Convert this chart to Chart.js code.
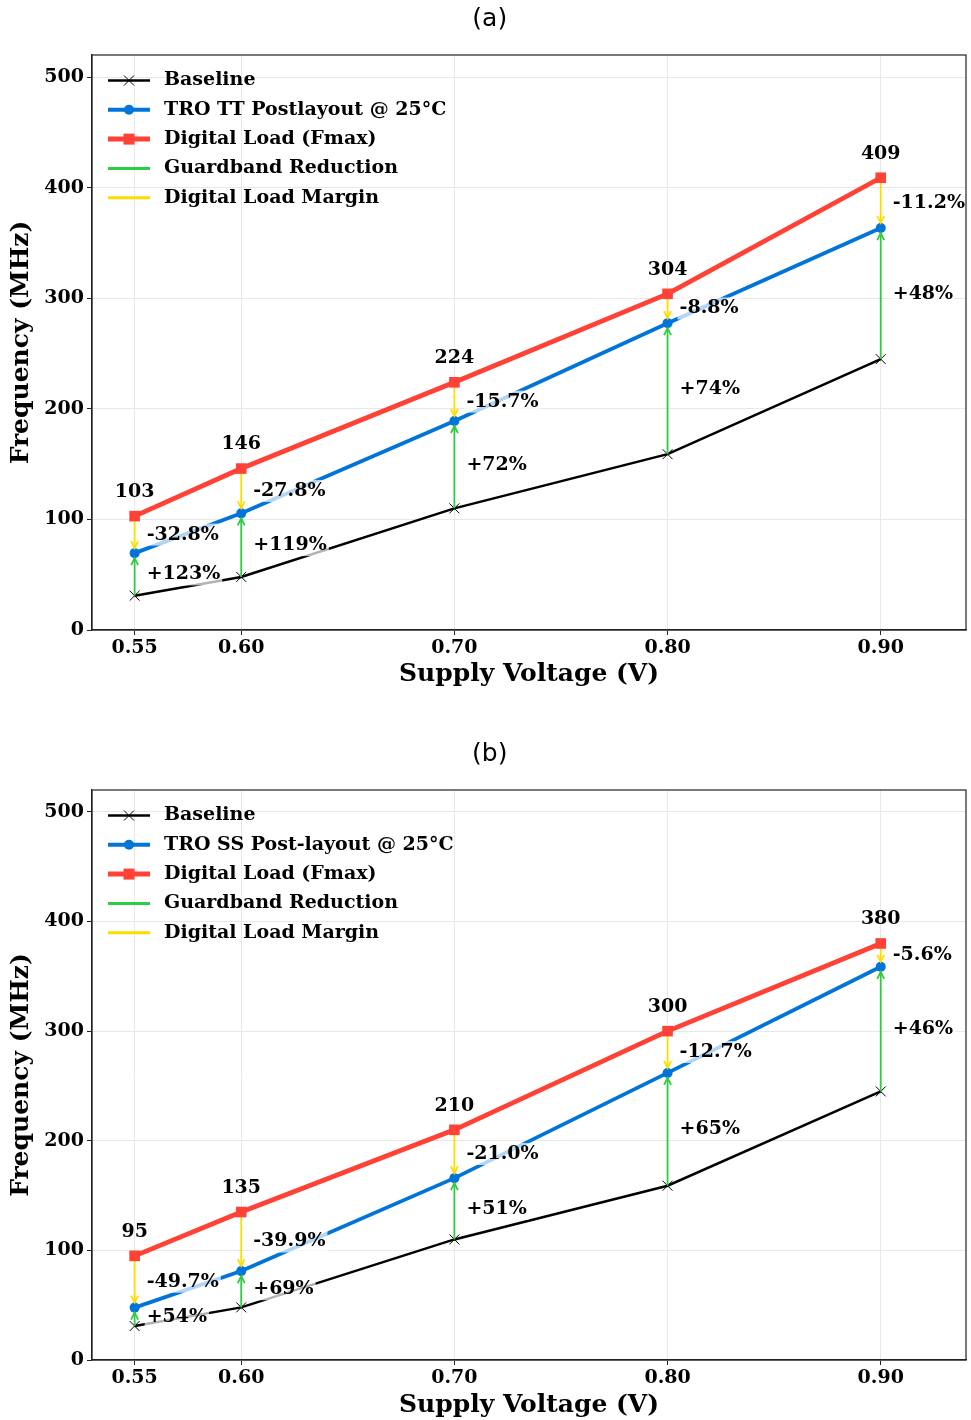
<!DOCTYPE html>
<html>
<head>
<meta charset="utf-8">
<script src="https://cdn.jsdelivr.net/npm/chart.js@4/dist/chart.umd.min.js"></script>
<style>
  body { margin: 0; background: #fff; overflow: hidden; }
  .box { position: absolute; left: 0; width: 971px; }
</style>
</head>
<body>
<div class="box" style="top:0;height:735px"><canvas id="chartA"></canvas></div>
<div class="box" style="top:735px;height:685px"><canvas id="chartB"></canvas></div>
<script>
// data
const voltages = [0.55, 0.60, 0.70, 0.80, 0.90];
const xTicks = [0.55, 0.60, 0.70, 0.80, 0.90];
const yTicks = [0, 100, 200, 300, 400, 500];
const baseline = [31, 48, 110, 159, 245];

const troTT = [69.5, 105.5, 189, 277.5, 363.5];
const digitalA = [103, 146, 224, 304, 409];
const marginA = ['-32.8%', '-27.8%', '-15.7%', '-8.8%', '-11.2%'];
const guardA = ['+123%', '+119%', '+72%', '+74%', '+48%'];

const troSS = [47.8, 81.1, 165.9, 261.9, 358.7];
const digitalB = [95, 135, 210, 300, 380];
const marginB = ['-49.7%', '-39.9%', '-21.0%', '-12.7%', '-5.6%'];
const guardB = ['+54%', '+69%', '+51%', '+65%', '+46%'];

const RED = '#FF4136', BLUE = '#0074D9', GREEN = '#2ECC40', YELLOW = '#FFDC00';
const SERIF = "'DejaVu Serif', serif";

function arrowPts(from, to) {
  const pts = [];
  voltages.forEach((v, i) => {
    pts.push({x: v, y: from[i]}, {x: v, y: to[i]}, {x: v, y: null});
  });
  return pts;
}

function xy(arr) {
  return voltages.map((v, i) => ({x: v, y: arr[i]}));
}

function makeChart(id, opt) {
  const annot = {
    id: 'annot',
    afterDatasetsDraw(chart) {
      const {ctx, scales: {x, y}} = chart;
      ctx.save();
      // arrow heads
      ctx.lineWidth = 1.8;
      voltages.forEach((v, i) => {
        const px = x.getPixelForValue(v);
        const yt = y.getPixelForValue(opt.tro[i]);
        ctx.strokeStyle = GREEN;
        ctx.beginPath();
        ctx.moveTo(px - 3.5, yt + 12); ctx.lineTo(px, yt + 5); ctx.lineTo(px + 3.5, yt + 12);
        ctx.stroke();
        ctx.strokeStyle = YELLOW;
        ctx.beginPath();
        ctx.moveTo(px - 3.5, yt - 12); ctx.lineTo(px, yt - 5); ctx.lineTo(px + 3.5, yt - 12);
        ctx.stroke();
      });
      ctx.font = 'bold 19px ' + SERIF;
      ctx.textBaseline = 'middle';
      voltages.forEach((v, i) => {
        const px = x.getPixelForValue(v);
        const yb = y.getPixelForValue(baseline[i]);
        const yt = y.getPixelForValue(opt.tro[i]);
        const yd = y.getPixelForValue(opt.digital[i]);
        ctx.fillStyle = '#000';
        ctx.textAlign = 'center';
        ctx.fillText(String(opt.digital[i]), px, yd - 24);
        ctx.textAlign = 'left';
        [[opt.margin[i], (yd + yt) / 2], [opt.guard[i], (yb + yt) / 2]].forEach(([t, ty]) => {
          const w = ctx.measureText(t).width;
          ctx.fillStyle = 'rgba(255,255,255,0.7)';
          ctx.fillRect(px + 10, ty - 11, w + 4, 22);
          ctx.fillStyle = '#000';
          ctx.fillText(t, px + 12, ty);
        });
      });
      ctx.restore();
    },
    afterDraw(chart) {
      const {ctx, chartArea: a} = chart;
      ctx.save();
      ctx.strokeStyle = '#222';
      ctx.lineWidth = 1.2;
      ctx.strokeRect(a.left, a.top, a.right - a.left, a.bottom - a.top);
      // legend
      const items = [
        {t: 'Baseline', c: '#000', w: 2.5, m: 'x'},
        {t: opt.troLabel, c: BLUE, w: 4, m: 'o'},
        {t: 'Digital Load (Fmax)', c: RED, w: 5, m: 's'},
        {t: 'Guardband Reduction', c: GREEN, w: 3, m: ''},
        {t: 'Digital Load Margin', c: YELLOW, w: 3, m: ''}
      ];
      ctx.font = 'bold 19px ' + SERIF;
      ctx.textBaseline = 'middle';
      ctx.textAlign = 'left';
      items.forEach((it, k) => {
        const ly = a.top + 25.5 + k * 29.3;
        const x0 = a.left + 16, x1 = a.left + 58, xm = (x0 + x1) / 2;
        ctx.strokeStyle = it.c; ctx.fillStyle = it.c; ctx.lineWidth = it.w;
        ctx.beginPath(); ctx.moveTo(x0, ly); ctx.lineTo(x1, ly); ctx.stroke();
        if (it.m === 'x') {
          ctx.lineWidth = 1;
          ctx.beginPath();
          ctx.moveTo(xm - 5, ly - 5); ctx.lineTo(xm + 5, ly + 5);
          ctx.moveTo(xm - 5, ly + 5); ctx.lineTo(xm + 5, ly - 5);
          ctx.stroke();
        } else if (it.m === 'o') {
          ctx.beginPath(); ctx.arc(xm, ly, 5, 0, Math.PI * 2); ctx.fill();
        } else if (it.m === 's') {
          ctx.fillRect(xm - 5.5, ly - 5.5, 11, 11);
        }
        ctx.fillStyle = '#000';
        ctx.fillText(it.t, a.left + 72, ly);
      });
      ctx.restore();
    }
  };

  const canvas = document.getElementById(id);
  const chart = new Chart(canvas, {
    type: 'line',
    data: {
      datasets: [
        {label: 'Digital Load (Fmax)', data: xy(opt.digital), borderColor: RED, backgroundColor: RED,
         borderWidth: 4.8, pointStyle: 'rect', pointRadius: 7.5, pointBorderWidth: 0},
        {label: opt.troLabel, data: xy(opt.tro), borderColor: BLUE, backgroundColor: BLUE,
         borderWidth: 3.8, pointStyle: 'circle', pointRadius: 5, pointBorderWidth: 0},
        {label: 'Digital Load Margin', data: arrowPts(opt.digital, opt.tro), borderColor: YELLOW,
         borderWidth: 1.8, pointRadius: 0, spanGaps: false},
        {label: 'Guardband Reduction', data: arrowPts(baseline, opt.tro), borderColor: GREEN,
         borderWidth: 1.8, pointRadius: 0, spanGaps: false},
        {label: 'Baseline', data: xy(baseline), borderColor: '#000', backgroundColor: '#000',
         borderWidth: 2.5, pointStyle: 'crossRot', pointRadius: 7, pointBorderWidth: 1}
      ]
    },
    options: {
      responsive: true,
      maintainAspectRatio: false,
      animation: false,
      events: [],
      layout: {padding: {left: 8, right: 1, top: 0, bottom: 0}},
      plugins: {
        legend: {display: false},
        tooltip: {enabled: false},
        title: {display: true, text: opt.title, color: '#000',
                font: {family: "'DejaVu Sans', sans-serif", size: 25, weight: 'normal'},
                padding: {top: 4, bottom: 21}}
      },
      scales: {
        x: {
          type: 'linear', min: 0.53, max: 0.94,
          afterBuildTicks: s => { s.ticks = xTicks.map(v => ({value: v})); },
          afterFit: s => { s.height = opt.xHeight; s.paddingLeft = 0; s.paddingRight = 0; },
          ticks: {color: '#000', font: {family: SERIF, size: 19, weight: 'bold'}, padding: 2,
                  maxRotation: 0, callback: v => v.toFixed(2)},
          grid: {color: '#e8e8e8', tickColor: '#222', tickLength: 5},
          border: {color: '#222', width: 1.2},
          title: {display: true, text: 'Supply Voltage (V)', color: '#000',
                  font: {family: SERIF, size: 25, weight: 'bold'},
                  padding: {top: 0, bottom: opt.xTitlePad}}
        },
        y: {
          min: 0, max: 520,
          afterBuildTicks: s => { s.ticks = yTicks.map(v => ({value: v})); },
          afterFit: s => { s.width = 84; s.paddingTop = 0; s.paddingBottom = 0; },
          ticks: {color: '#000', font: {family: SERIF, size: 19, weight: 'bold'}, padding: 3},
          grid: {color: '#e8e8e8', tickColor: '#222', tickLength: 5},
          border: {color: '#222', width: 1.2},
          title: {display: true, text: 'Frequency (MHz)', color: '#000',
                  font: {family: SERIF, size: 25, weight: 'bold'},
                  padding: {top: 0, bottom: 0}}
        }
      }
    },
    plugins: [annot]
  });
  // chart.js keeps a few px on the right; widen the box so the plot ends where the reference does
  const diff = 966 - chart.chartArea.right;
  if (diff > 0.5) {
    canvas.parentNode.style.width = (971 + diff) + 'px';
    chart.options.layout.padding.left = 8 - diff / 2;
    chart.options.scales.y.afterFit = s => { s.width = 84 + diff / 2; s.paddingTop = 0; s.paddingBottom = 0; };
    chart.resize();
  }
  return chart;
}

makeChart('chartA', {title: '(a)', tro: troTT, digital: digitalA, margin: marginA, guard: guardA,
  troLabel: 'TRO TT Postlayout @ 25°C', xHeight: 105, xTitlePad: 46});
makeChart('chartB', {title: '(b)', tro: troSS, digital: digitalB, margin: marginB, guard: guardB,
  troLabel: 'TRO SS Post-layout @ 25°C', xHeight: 60, xTitlePad: 0});
</script>
</body>
</html>
